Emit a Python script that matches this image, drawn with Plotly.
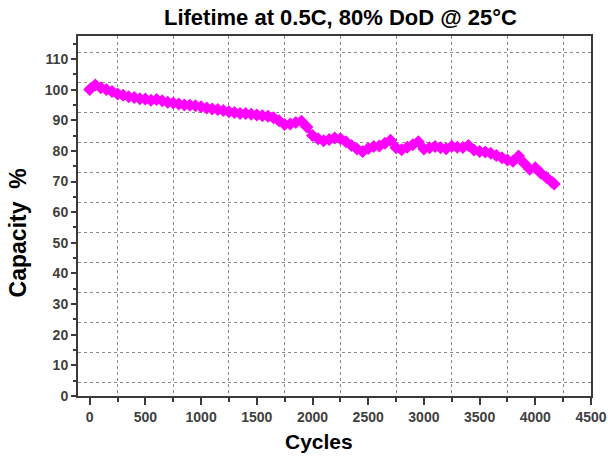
import plotly.graph_objects as go

title_text = "Lifetime at 0.5C, 80% DoD @ 25°C"
x_title = "Cycles"
y_title = "Capacity  %"

cycles = [0, 50, 100, 150, 200, 250, 300, 350, 400, 450, 500, 550, 600, 650, 700, 750,
          800, 850, 900, 950, 1000, 1050, 1100, 1150, 1200, 1250, 1300, 1350, 1400, 1450,
          1500, 1550, 1600, 1650, 1700, 1750, 1800, 1850, 1900, 1950, 2000, 2050, 2100,
          2150, 2200, 2250, 2300, 2350, 2400, 2450, 2500, 2550, 2600, 2650, 2700, 2750,
          2800, 2850, 2900, 2950, 3000, 3050, 3100, 3150, 3200, 3250, 3300, 3350, 3400,
          3450, 3500, 3550, 3600, 3650, 3700, 3750, 3800, 3850, 3900, 3950, 4000, 4050,
          4100, 4150, 4170]
capacity = [100.0, 101.5, 100.6, 100.0, 99.4, 98.6, 98.2, 97.7, 97.4, 97.0, 96.9, 96.5,
            96.8, 96.4, 95.9, 95.6, 95.3, 95.0, 94.9, 94.7, 94.4, 94.0, 93.7, 93.5, 93.2,
            92.8, 92.5, 92.2, 92.2, 92.0, 91.7, 91.5, 91.3, 90.8, 89.8, 88.6, 88.8, 89.3,
            89.7, 87.8, 85.0, 84.0, 83.3, 83.7, 84.2, 84.0, 83.0, 81.8, 80.6, 79.8, 80.8,
            81.4, 81.6, 82.5, 83.5, 81.0, 80.4, 81.2, 82.0, 83.0, 80.6, 81.0, 81.4, 81.0,
            80.7, 81.5, 81.2, 81.1, 81.8, 80.3, 79.8, 79.6, 79.2, 78.5, 77.8, 77.0, 76.6,
            78.3, 76.0, 74.0, 74.5, 72.7, 71.3, 69.8, 69.2]

x_ticks = [0, 500, 1000, 1500, 2000, 2500, 3000, 3500, 4000, 4500]
y_ticks = [0, 10, 20, 30, 40, 50, 60, 70, 80, 90, 100, 110]

x_range = [-105, 4500]
y_range = [0, 117.5]

axis_col = "#3a3a3a"
grid_col = "#8a8a8a"
FONT = "Liberation Sans, Arial, sans-serif"
tick_font = dict(family=FONT, size=14, color="#404040", weight="bold")

fig = go.Figure()
fig.add_trace(go.Scatter(
    x=cycles, y=capacity, mode="lines+markers",
    line=dict(color="#FF00FF", width=4),
    marker=dict(symbol="diamond", size=10, color="#FF00FF"),
    showlegend=False, hoverinfo="skip"))
# helper trace so the grid-only overlay axis is drawn
fig.add_trace(go.Scatter(x=[None], y=[None], yaxis="y2", showlegend=False, hoverinfo="skip"))

fig.update_layout(
    width=608, height=459,
    margin=dict(l=78, r=17, t=36, b=63),
    paper_bgcolor="white", plot_bgcolor="white",
    title=dict(text=title_text, x=0.56, xanchor="center", y=0.963, yanchor="middle",
               font=dict(family=FONT, size=22, color="black", weight="bold")),
    xaxis=dict(
        range=x_range, tickvals=x_ticks, ticks="outside", ticklen=7, tickwidth=2,
        tickcolor=axis_col, tickfont=tick_font, automargin=False,
        showline=True, linewidth=2, linecolor=axis_col, mirror=True,
        showgrid=False, zeroline=False,
        minor=dict(tick0=250, dtick=500, ticks="outside", ticklen=4, tickwidth=1.5,
                   tickcolor=axis_col, showgrid=True, gridcolor=grid_col, griddash="dot", gridwidth=1),
    ),
    yaxis=dict(
        range=y_range, tickvals=y_ticks, ticks="outside", ticklen=5, tickwidth=1.5,
        tickcolor=axis_col, tickfont=tick_font, automargin=False,
        showline=True, linewidth=2, linecolor=axis_col, mirror=True,
        showgrid=False, zeroline=False,
        minor=dict(tick0=5, dtick=10, ticks="outside", ticklen=3, tickwidth=1.5, tickcolor=axis_col),
    ),
    yaxis2=dict(
        range=y_range, overlaying="y", side="left", tick0=4.35, dtick=9.8,
        showticklabels=False, ticks="", showline=False, zeroline=False, automargin=False,
        showgrid=True, gridcolor=grid_col, griddash="dot", gridwidth=1,
    ),
    annotations=[
        dict(text=x_title, xref="paper", yref="paper", x=0.469, y=-0.125,
             xanchor="center", yanchor="middle", showarrow=False,
             font=dict(family=FONT, size=21, color="black", weight="bold")),
        dict(text=y_title, xref="paper", yref="paper", x=-0.118, y=0.453, textangle=-90,
             xanchor="center", yanchor="middle", showarrow=False,
             font=dict(family=FONT, size=23, color="black", weight="bold")),
    ],
)

fig.write_html("out.html", config={"displayModeBar": False},
               post_script="document.body.style.margin='0';")
